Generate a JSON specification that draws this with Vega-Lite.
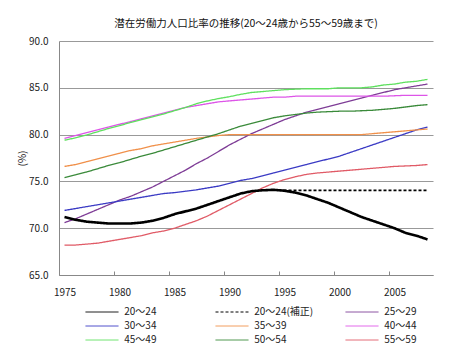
{
  "$schema": "https://vega.github.io/schema/vega-lite/v6.json",
  "width": 374,
  "height": 234,
  "autosize": {"type": "none"},
  "padding": {"left": 59, "top": 41, "right": 17, "bottom": 79},
  "background": "white",
  "config": {
    "font": "Noto Sans CJK JP",
    "view": {"stroke": null},
    "axis": {"labelFontSize": 10, "labelColor": "#222", "labelFont": "Noto Sans CJK JP"},
    "legend": {
      "orient": "none", "legendX": 34, "legendY": 262, "columns": 3, "direction": "horizontal", "gridAlign": "all",
      "columnPadding": 29, "rowPadding": 0, "symbolType": "M-2,0H2", "symbolSize": 272,
      "symbolStrokeWidth": 1, "labelFontSize": 10, "labelColor": "#222", "labelOffset": 13.25, "title": null
    }
  },
  "title": {"text": "潜在労働力人口比率の推移(20～24歳から55～59歳まで)", "fontSize": 10.5, "fontWeight": "normal", "color": "#111", "offset": 7, "anchor": "middle"},
  "data": {"values": [
    {"year":1975,"series":"20～24","value":71.2},{"year":1976,"series":"20～24","value":70.9},{"year":1977,"series":"20～24","value":70.7},{"year":1978,"series":"20～24","value":70.6},{"year":1979,"series":"20～24","value":70.5},{"year":1980,"series":"20～24","value":70.5},{"year":1981,"series":"20～24","value":70.5},{"year":1982,"series":"20～24","value":70.6},{"year":1983,"series":"20～24","value":70.8},{"year":1984,"series":"20～24","value":71.1},{"year":1985,"series":"20～24","value":71.5},{"year":1986,"series":"20～24","value":71.8},{"year":1987,"series":"20～24","value":72.1},{"year":1988,"series":"20～24","value":72.5},{"year":1989,"series":"20～24","value":72.9},{"year":1990,"series":"20～24","value":73.3},{"year":1991,"series":"20～24","value":73.7},{"year":1992,"series":"20～24","value":73.95},{"year":1993,"series":"20～24","value":74.05},{"year":1994,"series":"20～24","value":74.1},{"year":1995,"series":"20～24","value":74.0},{"year":1996,"series":"20～24","value":73.8},{"year":1997,"series":"20～24","value":73.5},{"year":1998,"series":"20～24","value":73.1},{"year":1999,"series":"20～24","value":72.7},{"year":2000,"series":"20～24","value":72.2},{"year":2001,"series":"20～24","value":71.7},{"year":2002,"series":"20～24","value":71.2},{"year":2003,"series":"20～24","value":70.8},{"year":2004,"series":"20～24","value":70.4},{"year":2005,"series":"20～24","value":70.0},{"year":2006,"series":"20～24","value":69.5},{"year":2007,"series":"20～24","value":69.2},{"year":2008,"series":"20～24","value":68.8},
    {"year":1994,"series":"20～24(補正)","value":74.1},{"year":1995,"series":"20～24(補正)","value":74.05},{"year":1996,"series":"20～24(補正)","value":74.05},{"year":1997,"series":"20～24(補正)","value":74.05},{"year":1998,"series":"20～24(補正)","value":74.05},{"year":1999,"series":"20～24(補正)","value":74.05},{"year":2000,"series":"20～24(補正)","value":74.05},{"year":2001,"series":"20～24(補正)","value":74.05},{"year":2002,"series":"20～24(補正)","value":74.05},{"year":2003,"series":"20～24(補正)","value":74.05},{"year":2004,"series":"20～24(補正)","value":74.05},{"year":2005,"series":"20～24(補正)","value":74.05},{"year":2006,"series":"20～24(補正)","value":74.05},{"year":2007,"series":"20～24(補正)","value":74.05},{"year":2008,"series":"20～24(補正)","value":74.05},
    {"year":1975,"series":"25～29","value":70.6},{"year":1976,"series":"25～29","value":71.0},{"year":1977,"series":"25～29","value":71.5},{"year":1978,"series":"25～29","value":72.0},{"year":1979,"series":"25～29","value":72.5},{"year":1980,"series":"25～29","value":73.0},{"year":1981,"series":"25～29","value":73.4},{"year":1982,"series":"25～29","value":73.9},{"year":1983,"series":"25～29","value":74.4},{"year":1984,"series":"25～29","value":75.0},{"year":1985,"series":"25～29","value":75.6},{"year":1986,"series":"25～29","value":76.2},{"year":1987,"series":"25～29","value":76.9},{"year":1988,"series":"25～29","value":77.5},{"year":1989,"series":"25～29","value":78.2},{"year":1990,"series":"25～29","value":78.9},{"year":1991,"series":"25～29","value":79.5},{"year":1992,"series":"25～29","value":80.1},{"year":1993,"series":"25～29","value":80.6},{"year":1994,"series":"25～29","value":81.1},{"year":1995,"series":"25～29","value":81.6},{"year":1996,"series":"25～29","value":82.0},{"year":1997,"series":"25～29","value":82.4},{"year":1998,"series":"25～29","value":82.7},{"year":1999,"series":"25～29","value":83.0},{"year":2000,"series":"25～29","value":83.3},{"year":2001,"series":"25～29","value":83.6},{"year":2002,"series":"25～29","value":83.9},{"year":2003,"series":"25～29","value":84.2},{"year":2004,"series":"25～29","value":84.5},{"year":2005,"series":"25～29","value":84.8},{"year":2006,"series":"25～29","value":85.0},{"year":2007,"series":"25～29","value":85.2},{"year":2008,"series":"25～29","value":85.4},
    {"year":1975,"series":"30～34","value":71.9},{"year":1976,"series":"30～34","value":72.1},{"year":1977,"series":"30～34","value":72.3},{"year":1978,"series":"30～34","value":72.5},{"year":1979,"series":"30～34","value":72.7},{"year":1980,"series":"30～34","value":72.9},{"year":1981,"series":"30～34","value":73.1},{"year":1982,"series":"30～34","value":73.3},{"year":1983,"series":"30～34","value":73.5},{"year":1984,"series":"30～34","value":73.7},{"year":1985,"series":"30～34","value":73.8},{"year":1986,"series":"30～34","value":73.95},{"year":1987,"series":"30～34","value":74.1},{"year":1988,"series":"30～34","value":74.3},{"year":1989,"series":"30～34","value":74.5},{"year":1990,"series":"30～34","value":74.8},{"year":1991,"series":"30～34","value":75.1},{"year":1992,"series":"30～34","value":75.3},{"year":1993,"series":"30～34","value":75.6},{"year":1994,"series":"30～34","value":75.9},{"year":1995,"series":"30～34","value":76.2},{"year":1996,"series":"30～34","value":76.5},{"year":1997,"series":"30～34","value":76.8},{"year":1998,"series":"30～34","value":77.1},{"year":1999,"series":"30～34","value":77.4},{"year":2000,"series":"30～34","value":77.7},{"year":2001,"series":"30～34","value":78.1},{"year":2002,"series":"30～34","value":78.5},{"year":2003,"series":"30～34","value":78.9},{"year":2004,"series":"30～34","value":79.3},{"year":2005,"series":"30～34","value":79.7},{"year":2006,"series":"30～34","value":80.1},{"year":2007,"series":"30～34","value":80.5},{"year":2008,"series":"30～34","value":80.8},
    {"year":1975,"series":"35～39","value":76.6},{"year":1976,"series":"35～39","value":76.8},{"year":1977,"series":"35～39","value":77.1},{"year":1978,"series":"35～39","value":77.4},{"year":1979,"series":"35～39","value":77.7},{"year":1980,"series":"35～39","value":78.0},{"year":1981,"series":"35～39","value":78.3},{"year":1982,"series":"35～39","value":78.5},{"year":1983,"series":"35～39","value":78.8},{"year":1984,"series":"35～39","value":79.0},{"year":1985,"series":"35～39","value":79.2},{"year":1986,"series":"35～39","value":79.4},{"year":1987,"series":"35～39","value":79.6},{"year":1988,"series":"35～39","value":79.75},{"year":1989,"series":"35～39","value":79.9},{"year":1990,"series":"35～39","value":80.0},{"year":1991,"series":"35～39","value":80.0},{"year":1992,"series":"35～39","value":80.0},{"year":1993,"series":"35～39","value":80.0},{"year":1994,"series":"35～39","value":80.0},{"year":1995,"series":"35～39","value":80.0},{"year":1996,"series":"35～39","value":80.0},{"year":1997,"series":"35～39","value":80.0},{"year":1998,"series":"35～39","value":80.0},{"year":1999,"series":"35～39","value":80.0},{"year":2000,"series":"35～39","value":80.0},{"year":2001,"series":"35～39","value":80.0},{"year":2002,"series":"35～39","value":80.0},{"year":2003,"series":"35～39","value":80.1},{"year":2004,"series":"35～39","value":80.2},{"year":2005,"series":"35～39","value":80.3},{"year":2006,"series":"35～39","value":80.4},{"year":2007,"series":"35～39","value":80.5},{"year":2008,"series":"35～39","value":80.6},
    {"year":1975,"series":"40～44","value":79.6},{"year":1976,"series":"40～44","value":79.9},{"year":1977,"series":"40～44","value":80.2},{"year":1978,"series":"40～44","value":80.5},{"year":1979,"series":"40～44","value":80.8},{"year":1980,"series":"40～44","value":81.1},{"year":1981,"series":"40～44","value":81.4},{"year":1982,"series":"40～44","value":81.7},{"year":1983,"series":"40～44","value":82.0},{"year":1984,"series":"40～44","value":82.3},{"year":1985,"series":"40～44","value":82.6},{"year":1986,"series":"40～44","value":82.9},{"year":1987,"series":"40～44","value":83.1},{"year":1988,"series":"40～44","value":83.3},{"year":1989,"series":"40～44","value":83.5},{"year":1990,"series":"40～44","value":83.6},{"year":1991,"series":"40～44","value":83.7},{"year":1992,"series":"40～44","value":83.8},{"year":1993,"series":"40～44","value":83.9},{"year":1994,"series":"40～44","value":84.0},{"year":1995,"series":"40～44","value":84.0},{"year":1996,"series":"40～44","value":84.1},{"year":1997,"series":"40～44","value":84.1},{"year":1998,"series":"40～44","value":84.1},{"year":1999,"series":"40～44","value":84.1},{"year":2000,"series":"40～44","value":84.1},{"year":2001,"series":"40～44","value":84.1},{"year":2002,"series":"40～44","value":84.1},{"year":2003,"series":"40～44","value":84.1},{"year":2004,"series":"40～44","value":84.1},{"year":2005,"series":"40～44","value":84.15},{"year":2006,"series":"40～44","value":84.2},{"year":2007,"series":"40～44","value":84.2},{"year":2008,"series":"40～44","value":84.2},
    {"year":1975,"series":"45～49","value":79.4},{"year":1976,"series":"45～49","value":79.65},{"year":1977,"series":"45～49","value":79.95},{"year":1978,"series":"45～49","value":80.3},{"year":1979,"series":"45～49","value":80.65},{"year":1980,"series":"45～49","value":80.95},{"year":1981,"series":"45～49","value":81.3},{"year":1982,"series":"45～49","value":81.6},{"year":1983,"series":"45～49","value":81.9},{"year":1984,"series":"45～49","value":82.2},{"year":1985,"series":"45～49","value":82.55},{"year":1986,"series":"45～49","value":82.9},{"year":1987,"series":"45～49","value":83.3},{"year":1988,"series":"45～49","value":83.6},{"year":1989,"series":"45～49","value":83.85},{"year":1990,"series":"45～49","value":84.05},{"year":1991,"series":"45～49","value":84.3},{"year":1992,"series":"45～49","value":84.5},{"year":1993,"series":"45～49","value":84.6},{"year":1994,"series":"45～49","value":84.7},{"year":1995,"series":"45～49","value":84.8},{"year":1996,"series":"45～49","value":84.85},{"year":1997,"series":"45～49","value":84.9},{"year":1998,"series":"45～49","value":84.9},{"year":1999,"series":"45～49","value":84.9},{"year":2000,"series":"45～49","value":85.0},{"year":2001,"series":"45～49","value":85.0},{"year":2002,"series":"45～49","value":85.0},{"year":2003,"series":"45～49","value":85.1},{"year":2004,"series":"45～49","value":85.3},{"year":2005,"series":"45～49","value":85.4},{"year":2006,"series":"45～49","value":85.6},{"year":2007,"series":"45～49","value":85.7},{"year":2008,"series":"45～49","value":85.9},
    {"year":1975,"series":"50～54","value":75.4},{"year":1976,"series":"50～54","value":75.7},{"year":1977,"series":"50～54","value":76.0},{"year":1978,"series":"50～54","value":76.35},{"year":1979,"series":"50～54","value":76.7},{"year":1980,"series":"50～54","value":77.0},{"year":1981,"series":"50～54","value":77.35},{"year":1982,"series":"50～54","value":77.7},{"year":1983,"series":"50～54","value":78.0},{"year":1984,"series":"50～54","value":78.35},{"year":1985,"series":"50～54","value":78.7},{"year":1986,"series":"50～54","value":79.05},{"year":1987,"series":"50～54","value":79.4},{"year":1988,"series":"50～54","value":79.75},{"year":1989,"series":"50～54","value":80.1},{"year":1990,"series":"50～54","value":80.5},{"year":1991,"series":"50～54","value":80.9},{"year":1992,"series":"50～54","value":81.2},{"year":1993,"series":"50～54","value":81.5},{"year":1994,"series":"50～54","value":81.8},{"year":1995,"series":"50～54","value":82.0},{"year":1996,"series":"50～54","value":82.15},{"year":1997,"series":"50～54","value":82.3},{"year":1998,"series":"50～54","value":82.4},{"year":1999,"series":"50～54","value":82.45},{"year":2000,"series":"50～54","value":82.5},{"year":2001,"series":"50～54","value":82.5},{"year":2002,"series":"50～54","value":82.55},{"year":2003,"series":"50～54","value":82.6},{"year":2004,"series":"50～54","value":82.7},{"year":2005,"series":"50～54","value":82.8},{"year":2006,"series":"50～54","value":82.95},{"year":2007,"series":"50～54","value":83.1},{"year":2008,"series":"50～54","value":83.2},
    {"year":1975,"series":"55～59","value":68.2},{"year":1976,"series":"55～59","value":68.2},{"year":1977,"series":"55～59","value":68.3},{"year":1978,"series":"55～59","value":68.4},{"year":1979,"series":"55～59","value":68.6},{"year":1980,"series":"55～59","value":68.8},{"year":1981,"series":"55～59","value":69.0},{"year":1982,"series":"55～59","value":69.2},{"year":1983,"series":"55～59","value":69.5},{"year":1984,"series":"55～59","value":69.7},{"year":1985,"series":"55～59","value":70.0},{"year":1986,"series":"55～59","value":70.4},{"year":1987,"series":"55～59","value":70.8},{"year":1988,"series":"55～59","value":71.3},{"year":1989,"series":"55～59","value":71.9},{"year":1990,"series":"55～59","value":72.5},{"year":1991,"series":"55～59","value":73.1},{"year":1992,"series":"55～59","value":73.7},{"year":1993,"series":"55～59","value":74.3},{"year":1994,"series":"55～59","value":74.8},{"year":1995,"series":"55～59","value":75.2},{"year":1996,"series":"55～59","value":75.5},{"year":1997,"series":"55～59","value":75.75},{"year":1998,"series":"55～59","value":75.9},{"year":1999,"series":"55～59","value":76.0},{"year":2000,"series":"55～59","value":76.1},{"year":2001,"series":"55～59","value":76.2},{"year":2002,"series":"55～59","value":76.3},{"year":2003,"series":"55～59","value":76.4},{"year":2004,"series":"55～59","value":76.5},{"year":2005,"series":"55～59","value":76.6},{"year":2006,"series":"55～59","value":76.65},{"year":2007,"series":"55～59","value":76.7},{"year":2008,"series":"55～59","value":76.8}
  ]},
  "encoding": {
    "x": {"field": "year", "type": "quantitative",
      "scale": {"domain": [1974.5, 2008.5], "nice": false, "zero": false},
      "axis": {"values": [1975, 1980, 1985, 1990, 1995, 2000, 2005], "format": "d", "title": null, "grid": false,
        "domainColor": "#888", "tickColor": "#888", "tickSize": -4, "tickOffset": -5.5, "labelOffset": 5.5, "labelPadding": 16}},
    "y": {"field": "value", "type": "quantitative",
      "scale": {"domain": [65, 90], "nice": false, "zero": false},
      "axis": {"values": [65, 70, 75, 80, 85, 90], "format": ".1f", "title": "(%)", "titleFontSize": 10, "titleFontWeight": "normal", "titleColor": "#222", "titlePadding": 1,
        "grid": true, "gridColor": "#999", "domainColor": "#888", "ticks": false, "labelPadding": 11}},
    "color": {"field": "series", "type": "nominal",
      "scale": {"domain": ["20～24", "20～24(補正)", "25～29", "30～34", "35～39", "40～44", "45～49", "50～54", "55～59"],
        "range": ["#000000", "#000000", "#7E3C96", "#3A3AC4", "#F0904A", "#DD55E8", "#5EE05E", "#3A8A3A", "#E05A66"]}},
    "strokeDash": {"field": "series", "type": "nominal",
      "scale": {"domain": ["20～24", "20～24(補正)", "25～29", "30～34", "35～39", "40～44", "45～49", "50～54", "55～59"],
        "range": [[1, 0], [3, 2], [1, 0], [1, 0], [1, 0], [1, 0], [1, 0], [1, 0], [1, 0]]}}
  },
  "layer": [
    {"transform": [{"filter": "datum.series !== '20～24' && datum.series !== '20～24(補正)'"}], "mark": {"type": "line", "strokeWidth": 1.3}},
    {"transform": [{"filter": "datum.series === '20～24(補正)'"}], "mark": {"type": "line", "strokeWidth": 1.8}},
    {"transform": [{"filter": "datum.series === '20～24'"}], "mark": {"type": "line", "strokeWidth": 2.6}}
  ]
}
